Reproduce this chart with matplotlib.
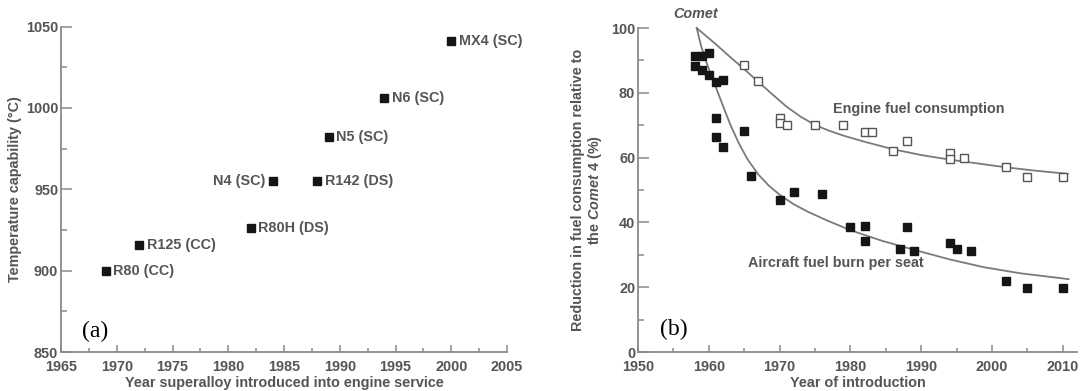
import matplotlib
matplotlib.use("Agg")
import matplotlib.pyplot as plt
from matplotlib.ticker import MultipleLocator

plt.rcParams['font.family'] = ['Liberation Sans', 'DejaVu Sans']
plt.rcParams['mathtext.fontset'] = 'custom'
plt.rcParams['mathtext.rm'] = 'Liberation Sans:bold'
plt.rcParams['mathtext.it'] = 'Liberation Sans:bold:italic'
plt.rcParams['mathtext.bf'] = 'Liberation Sans:bold'

# ---------------- Panel (a) data ----------------
alloy_names = ["R80 (CC)", "R125 (CC)", "R80H (DS)", "N4 (SC)", "R142 (DS)",
               "N5 (SC)", "N6 (SC)", "MX4 (SC)"]
alloy_years = [1969, 1972, 1982, 1984, 1988, 1989, 1994, 2000]
alloy_temps = [900, 916, 926, 955, 955, 982, 1006, 1041]
alloy_label_side = ["right", "right", "right", "left", "right", "right", "right", "right"]

# ---------------- Panel (b) data ----------------
aircraft_years = [1958, 1959, 1960, 1958, 1959, 1960, 1961, 1962, 1961, 1961, 1962,
                  1965, 1966, 1970, 1972, 1976, 1980, 1982, 1982, 1987, 1988, 1989,
                  1994, 1995, 1997, 2002, 2005, 2010]
aircraft_burn = [91.3, 91.3, 92.3, 88.4, 87.2, 85.5, 83.4, 83.9, 72.3, 66.4, 63.3,
                 68.2, 54.3, 46.8, 49.5, 48.8, 38.7, 38.9, 34.3, 31.9, 38.6, 31.3,
                 33.8, 31.8, 31.1, 22.0, 19.8, 19.8]

engine_years = [1965, 1967, 1970, 1970, 1971, 1975, 1979, 1982, 1983, 1986, 1988,
                1994, 1994, 1996, 2002, 2005, 2010]
engine_fuel = [88.5, 83.5, 72.3, 70.6, 70.2, 70.2, 70.2, 68.0, 68.0, 62.0, 65.1,
               61.3, 59.5, 60.0, 57.1, 54.0, 54.0]

# trend curves
engine_curve_x = [1958.3, 1961.0, 1963.0, 1965.0, 1967.0, 1969.0, 1971.0, 1973.0,
                  1975.0, 1977.0, 1979.0, 1982.0, 1986.0, 1990.0, 1994.0, 1998.0,
                  2002.0, 2006.0, 2010.7]
engine_curve_y = [100.0, 95.0, 91.1, 87.3, 83.4, 79.5, 75.7, 72.6,
                  70.1, 68.3, 66.8, 64.9, 62.6, 60.8, 59.4, 58.2,
                  57.0, 56.0, 55.0]

aircraft_curve_x = [1958.3, 1958.9, 1959.8, 1960.8, 1962.0, 1963.1, 1964.3, 1965.5,
                    1967.0, 1968.5, 1970.1, 1972.0, 1974.0, 1976.6, 1980.0, 1984.5,
                    1989.4, 1994.0, 1998.8, 2004.0, 2010.8]
aircraft_curve_y = [100.0, 94.6, 88.6, 82.9, 76.0, 69.9, 64.2, 59.4,
                    54.8, 51.3, 48.4, 45.6, 43.3, 40.7, 37.6, 34.3,
                    31.3, 28.6, 26.2, 24.3, 22.5]

comet_label_pos = (1958.2, 104.3)

# ---------------- styling ----------------
TXT = '#555555'
SPINE = '#8a8a8a'
LINE = '#7a7a7a'
FS = 10.4

fig = plt.figure(figsize=(10.8, 3.91), dpi=100)
axa = fig.add_axes([0.0565, 0.0997, 0.413, 0.8325])
axb = fig.add_axes([0.5907, 0.0997, 0.4065, 0.8286])

for ax in (axa, axb):
    for s in ('top', 'right'):
        ax.spines[s].set_visible(False)
    for s in ('left', 'bottom'):
        ax.spines[s].set_color(SPINE)
        ax.spines[s].set_linewidth(1.3)
    ax.tick_params(which='both', direction='in', colors=SPINE, labelcolor=TXT,
                   labelsize=FS, width=1.1)
    ax.tick_params(axis='y', which='major', length=8, pad=2)
    ax.tick_params(axis='y', which='minor', length=4)
    ax.tick_params(axis='x', which='major', length=5, pad=6)
    ax.tick_params(axis='x', which='minor', length=3)

# ---------------- Panel (a) ----------------
axa.plot(alloy_years, alloy_temps, 's', color='#151515', markersize=6, clip_on=False)
for name, x, y, side in zip(alloy_names, alloy_years, alloy_temps, alloy_label_side):
    if side == 'right':
        axa.annotate(name, (x, y), xytext=(5.5, 0), textcoords='offset points',
                     ha='left', va='center', fontsize=FS, color=TXT, fontweight='bold')
    else:
        axa.annotate(name, (x, y), xytext=(-5.5, 0), textcoords='offset points',
                     ha='right', va='center', fontsize=FS, color=TXT, fontweight='bold')
axa.set_xlim(1965, 2005)
axa.set_ylim(850, 1050)
axa.xaxis.set_major_locator(MultipleLocator(5))
axa.xaxis.set_minor_locator(MultipleLocator(2.5))
axa.yaxis.set_major_locator(MultipleLocator(50))
axa.yaxis.set_minor_locator(MultipleLocator(25))
for lab in axa.get_xticklabels() + axa.get_yticklabels():
    lab.set_fontweight('bold')
axa.set_xlabel("Year superalloy introduced into engine service", fontsize=FS,
               color=TXT, labelpad=1, fontweight='bold')
axa.set_ylabel("Temperature capability (°C)", fontsize=FS, color=TXT, labelpad=3,
               fontweight='bold')
axa.text(0.048, 0.062, "(a)", transform=axa.transAxes, fontsize=17,
         family='Liberation Serif', color='black', ha='left', va='center')

# ---------------- Panel (b) ----------------
axb.plot(engine_curve_x, engine_curve_y, '-', color=LINE, lw=1.3, clip_on=False)
axb.plot(aircraft_curve_x, aircraft_curve_y, '-', color=LINE, lw=1.3, clip_on=False)
axb.plot(aircraft_years, aircraft_burn, 's', color='#151515', markersize=5.2, clip_on=False)
axb.plot(engine_years, engine_fuel, 's', markerfacecolor='white', markeredgecolor='#555555',
         markeredgewidth=1.0, markersize=5.2, clip_on=False)
axb.set_xlim(1950, 2012)
axb.set_ylim(0, 100)
axb.xaxis.set_major_locator(MultipleLocator(10))
axb.xaxis.set_minor_locator(MultipleLocator(5))
axb.yaxis.set_major_locator(MultipleLocator(20))
axb.yaxis.set_minor_locator(MultipleLocator(10))
for lab in axb.get_xticklabels() + axb.get_yticklabels():
    lab.set_fontweight('bold')
axb.set_xlabel("Year of introduction", fontsize=FS, color=TXT, labelpad=1,
               fontweight='bold')
axb.set_ylabel("Reduction in fuel consumption relative to\nthe $\\it{Comet}$ 4 (%)",
               fontsize=FS, color=TXT, labelpad=5, linespacing=1.05, fontweight='bold')
axb.text(comet_label_pos[0], comet_label_pos[1], "Comet", style='italic', fontsize=FS,
         color=TXT, ha='center', va='center', clip_on=False, fontweight='bold')
axb.text(1977.6, 74.9, "Engine fuel consumption", fontsize=FS, color=TXT,
         ha='left', va='center', fontweight='bold')
axb.text(1965.6, 27.5, "Aircraft fuel burn per seat", fontsize=FS, color=TXT,
         ha='left', va='center', fontweight='bold')
axb.text(0.05, 0.07, "(b)", transform=axb.transAxes, fontsize=17,
         family='Liberation Serif', color='black', ha='left', va='center')

fig.savefig("out.png", dpi=100)
